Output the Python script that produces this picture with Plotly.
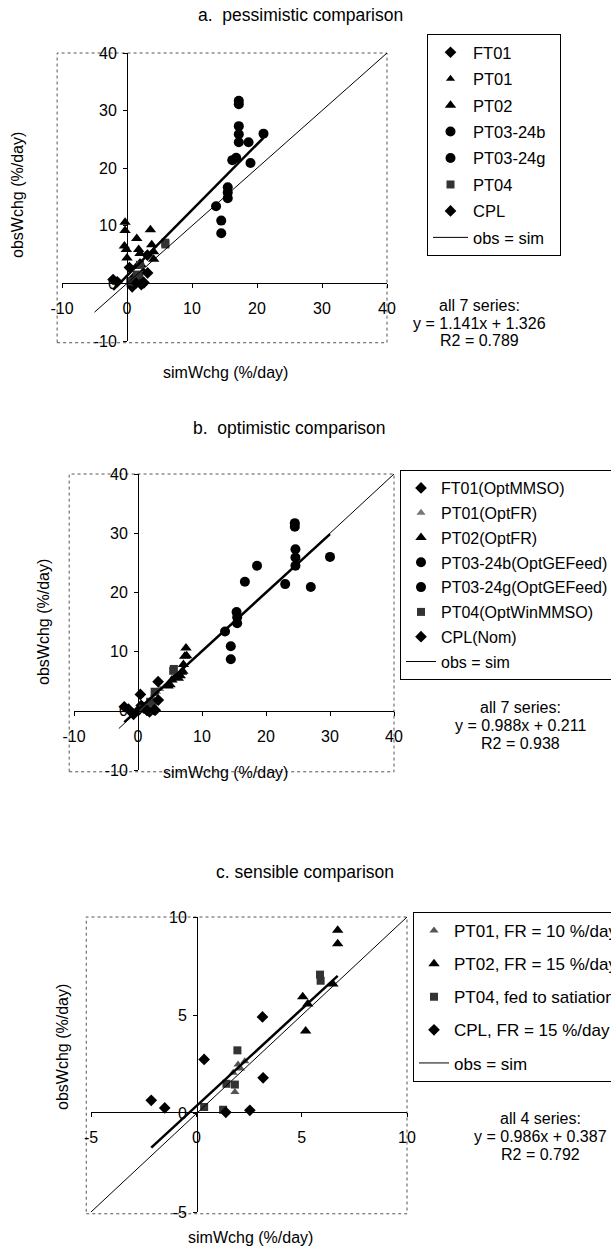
import plotly.graph_objects as go
import numpy as np

W, H = 611, 1254
FONT = "Liberation Sans, Arial, sans-serif"

# ---------------- data ----------------
# CPL (same in all panels)
cpl_x = [-2.14, -1.50, 0.37, 1.40, 2.54, 3.14, 3.17]
cpl_y = [0.68, 0.29, 2.76, 0.07, 0.17, 4.92, 1.82]

# Panel a (pessimistic)
a_ft01_x = [0.8, 1.2, 1.6, 2.2, 2.6, 1.0]
a_ft01_y = [-0.6, 0.2, 0.5, -0.2, 0.1, 0.9]
a_pt01_x = [1.3, 2.3, 2.0, 1.8, 2.5]
a_pt01_y = [2.9, 3.2, 3.7, 1.1, 2.2]
a_pt02_x = [-0.3, -0.3, -0.4, -0.1, 0.0, 1.5, 1.8, 2.0, 3.6, 3.8, 4.1, 4.1]
a_pt02_y = [10.6, 9.2, 6.5, 5.9, 4.4, 7.8, 5.9, 5.2, 9.3, 6.7, 5.5, 4.2]
a_pt03b_x = [17.2, 17.2, 17.2, 18.7, 16.2, 15.5, 15.5, 14.5]
a_pt03b_y = [31.7, 27.3, 24.5, 24.5, 21.4, 16.7, 14.8, 10.9]
a_pt03g_x = [17.2, 17.2, 21.0, 19.0, 16.8, 15.5, 13.7, 14.5]
a_pt03g_y = [31.1, 25.9, 26.0, 20.9, 21.8, 15.8, 13.4, 8.7]
a_pt04_x = [0.5, 1.3, 1.5, 1.9, 2.0, 5.9, 5.9]
a_pt04_y = [0.34, 0.2, 1.52, 1.48, 3.22, 7.07, 6.76]

# Panel b (optimistic)
b_ft01_x = [-0.7, 0.2, 0.9, 1.8, 2.7, 0.5]
b_ft01_y = [-0.6, 0.2, 0.5, -0.2, 0.1, 0.9]
b_pt01_x = [2.6, 2.9, 3.4, 1.5, 2.3]
b_pt01_y = [2.9, 3.2, 3.7, 1.1, 2.2]
b_pt02_x = [7.5, 7.3, 6.8, 6.6, 5.0, 7.1, 6.0, 5.3, 7.6, 7.0, 6.3, 4.7]
b_pt02_y = [10.6, 9.2, 6.5, 5.9, 4.4, 7.8, 5.9, 5.2, 9.3, 6.7, 5.5, 4.2]
b_pt03b_x = [24.5, 24.6, 24.6, 18.6, 23.0, 15.4, 15.5, 14.5]
b_pt03b_y = [31.7, 27.3, 24.5, 24.5, 21.4, 16.7, 14.8, 10.9]
b_pt03g_x = [24.5, 24.6, 30.0, 27.0, 16.7, 15.5, 13.6, 14.5]
b_pt03g_y = [31.1, 25.9, 26.0, 20.9, 21.8, 15.8, 13.4, 8.7]
b_pt04_x = [0.7, 1.5, 1.9, 2.3, 2.6, 5.6, 5.5]
b_pt04_y = [0.34, 0.2, 1.52, 1.48, 3.22, 7.07, 6.76]

# Panel c (sensible)
c_pt01_x = [1.75, 1.98, 2.30, 1.83, 2.10]
c_pt01_y = [2.08, 2.50, 2.67, 1.10, 2.30]
c_pt02_x = [6.71, 6.71, 5.05, 5.29, 5.19, 6.48]
c_pt02_y = [9.32, 8.64, 5.95, 5.57, 4.20, 6.59]
c_pt04_x = [0.37, 1.27, 1.43, 1.83, 1.95, 5.87, 5.90]
c_pt04_y = [0.34, 0.20, 1.52, 1.48, 3.22, 7.07, 6.76]

# obs = sim reference line extents
a_diag = [-5, 40.6]
b_diag = [-3, 40.6]
c_diag = [-5, 10.3]

# regression (slope, intercept) from the chart text
a_fit = (1.141, 1.326)
b_fit = (0.988, 0.211)
c_fit = (0.986, 0.387)

a_ticks = [-10, 0, 10, 20, 30, 40]
a_tick_labels = ["-10", "0", "10", "20", "30", "40"]
c_ticks = [-5, 0, 5, 10]
c_tick_labels = ["-5", "0", "5", "10"]

# ---------------- layout helpers ----------------
def px(x):
    return x / W

def py(y):
    return 1 - y / H

fig = go.Figure()

def mk(symbol, size, color="black"):
    return dict(symbol=symbol, size=size, color=color, line=dict(width=0))

def add_panel(suffix, legend, series, diag, fit, allx):
    xa = "x" + suffix
    ya = "y" + suffix
    for name, xs, ys, marker in series:
        fig.add_trace(go.Scatter(x=xs, y=ys, mode="markers", name=name, marker=marker,
                                 xaxis=xa, yaxis=ya, legend=legend, legendgroup=legend + name))
    # regression line
    xr = np.array([min(allx), max(allx)])
    fig.add_trace(go.Scatter(x=xr, y=fit[0] * xr + fit[1], mode="lines",
                             line=dict(color="black", width=2.5), showlegend=False,
                             xaxis=xa, yaxis=ya, hoverinfo="skip"))
    fig.add_trace(go.Scatter(x=diag, y=diag, mode="lines", name="obs = sim",
                             line=dict(color="black", width=1), xaxis=xa, yaxis=ya,
                             legend=legend, legendgroup=legend + "obs"))

dia = lambda: mk("diamond", 9)
tri = lambda: mk("triangle-up", 10)
tri_s = lambda c="black": mk("triangle-up", 8, c)
cir = lambda: mk("circle", 10)
sq = lambda: mk("square", 8, "#333333")

PAD = "\u00a0" * 2
a_series = [
    ("FT01", a_ft01_x, a_ft01_y, dia()),
    ("PT01", a_pt01_x, a_pt01_y, tri_s()),
    ("PT02", a_pt02_x, a_pt02_y, tri()),
    ("PT03-24b", a_pt03b_x, a_pt03b_y, cir()),
    ("PT03-24g" + PAD, a_pt03g_x, a_pt03g_y, cir()),
    ("PT04", a_pt04_x, a_pt04_y, sq()),
    ("CPL", cpl_x, cpl_y, dia()),
]
b_series = [
    ("FT01(OptMMSO)", b_ft01_x, b_ft01_y, dia()),
    ("PT01(OptFR)", b_pt01_x, b_pt01_y, tri_s("#777777")),
    ("PT02(OptFR)", b_pt02_x, b_pt02_y, tri()),
    ("PT03-24b(OptGEFeed)", b_pt03b_x, b_pt03b_y, cir()),
    ("PT03-24g(OptGEFeed)", b_pt03g_x, b_pt03g_y, cir()),
    ("PT04(OptWinMMSO)", b_pt04_x, b_pt04_y, sq()),
    ("CPL(Nom)", cpl_x, cpl_y, dia()),
]
c_series = [
    ("PT01, FR = 10 %/day", c_pt01_x, c_pt01_y, tri_s("#555555")),
    ("PT02, FR = 15 %/day", c_pt02_x, c_pt02_y, tri()),
    ("PT04, fed to satiation", c_pt04_x, c_pt04_y, sq()),
    ("CPL, FR = 15 %/day", cpl_x, cpl_y, dia()),
]

def allx(series):
    out = []
    for s in series:
        out += list(s[1])
    return out

add_panel("", "legend", a_series, a_diag, a_fit, allx(a_series))
add_panel("2", "legend2", b_series, b_diag, b_fit, allx(b_series))
add_panel("3", "legend3", c_series, c_diag, c_fit, allx(c_series))

# axes geometry (pixels)
panels = {
    "": dict(x0=62, x1=387, y0=53, y1=341, xr=[-10, 40], yr=[-10, 40], zx=127, zy=283,
             ticks=a_ticks, labels=a_tick_labels),
    "2": dict(x0=74, x1=394, y0=474, y1=770, xr=[-10, 40], yr=[-10, 40], zx=138, zy=711,
              ticks=a_ticks, labels=a_tick_labels),
    "3": dict(x0=91, x1=407, y0=917, y1=1212, xr=[-5, 10], yr=[-5, 10], zx=197, zy=1112,
              ticks=c_ticks, labels=c_tick_labels),
}

axis_common = dict(showgrid=False, zeroline=False, showline=True, linecolor="black", linewidth=1,
                   ticks="outside", ticklen=4, tickcolor="black",
                   tickfont=dict(family=FONT, size=16, color="black"))

for s, p in panels.items():
    xname = "xaxis" + s
    yname = "yaxis" + s
    fig.update_layout({
        xname: dict(axis_common, domain=[px(p["x0"]), px(p["x1"])], range=p["xr"], anchor="free",
                    position=py(p["zy"]), tickvals=p["ticks"], ticktext=p["labels"],
                    ticklabelstandoff=7),
        yname: dict(axis_common, domain=[py(p["y1"]), py(p["y0"])], range=p["yr"], anchor="free",
                    position=px(p["zx"]), tickvals=p["ticks"], ticktext=p["labels"],
                    ticklabelstandoff=3),
    })
    xr = "x" + s + " domain"
    yr = "y" + s + " domain"
    fig.add_shape(type="rect", xref=xr, yref=yr, x0=-0.015, x1=1, y0=-0.006, y1=1,
                  line=dict(color="#555555", width=1, dash="dot"), layer="below")

legend_common = dict(bgcolor="white", bordercolor="black", borderwidth=1,
                     xanchor="left", yanchor="top", traceorder="grouped")
fig.update_layout(
    legend=dict(legend_common, x=px(427), y=py(34), itemwidth=35, tracegroupgap=2,
                font=dict(family=FONT, size=16.5, color="black")),
    legend2=dict(legend_common, x=px(400), y=py(470), tracegroupgap=1,
                 font=dict(family=FONT, size=16, color="black")),
    legend3=dict(legend_common, x=px(413), y=py(912), tracegroupgap=8,
                 font=dict(family=FONT, size=17, color="black")),
)

def txt(x, y, t, size=16, angle=0):
    fig.add_annotation(x=px(x), y=py(y), xref="paper", yref="paper", text=t, showarrow=False,
                       textangle=angle, font=dict(family=FONT, size=size, color="black"),
                       xanchor="center", yanchor="middle")

txt(300, 15, "a.  pessimistic comparison", 17.5)
txt(289, 428, "b.  optimistic comparison", 17.5)
txt(305, 872, "c. sensible comparison", 17.5)
for (x, y) in [(226, 372), (226, 772), (250, 1237)]:
    txt(x, y, "simWchg (%/day)")
for (x, y) in [(18, 195), (43, 622), (62, 1047)]:
    txt(x, y, "obsWchg (%/day)", angle=-90)

for (x, y0, lines) in [
    (480, 305, ["all 7 series:", "y = 1.141x + 1.326", "R2 = 0.789"]),
    (520, 707, ["all 7 series:", "y = 0.988x + 0.211", "R2 = 0.938"]),
    (540, 1118, ["all 4 series:", "y = 0.986x + 0.387", "R2 = 0.792"]),
]:
    for i, l in enumerate(lines):
        txt(x, y0 + 18 * i, l)

fig.update_layout(width=W, height=H, margin=dict(l=0, r=0, t=0, b=0, autoexpand=False),
                  plot_bgcolor="white", paper_bgcolor="white", showlegend=True,
                  font=dict(family=FONT, color="black"))

fig.write_html("out.html")
